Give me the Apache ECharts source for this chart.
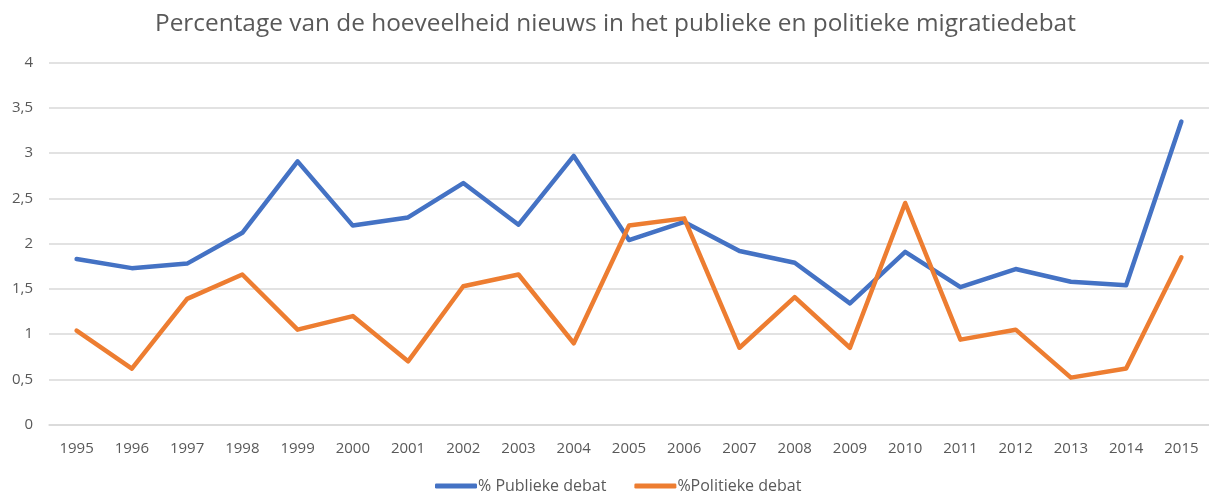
<!DOCTYPE html>
<html>
<head>
<meta charset="utf-8">
<script src="https://cdn.jsdelivr.net/npm/echarts@6/dist/echarts.min.js"></script>
<style>html,body{margin:0;padding:0;background:#fff;}#c{width:1209px;height:497px;}</style>
</head>
<body>
<div id="c"></div>
<script>
var years = ['1995','1996','1997','1998','1999','2000','2001','2002','2003','2004','2005','2006','2007','2008','2009','2010','2011','2012','2013','2014','2015'];
var publiek = [1.83,1.73,1.78,2.12,2.91,2.20,2.29,2.67,2.21,2.97,2.04,2.24,1.92,1.79,1.34,1.91,1.52,1.72,1.58,1.54,3.35];
var politiek = [1.04,0.62,1.39,1.66,1.05,1.20,0.70,1.53,1.66,0.90,2.20,2.28,0.85,1.41,0.85,2.45,0.94,1.05,0.52,0.62,1.85];
var seriesNames = ['% Publieke debat','%Politieke debat'];
var titleText = 'Percentage van de hoeveelheid nieuws in het publieke en politieke migratiedebat';

var chart = echarts.init(document.getElementById('c'));
var font = '"Open Sans", sans-serif';
chart.setOption({
  animation: false,
  title: {
    text: titleText, left: 150, top: 7,
    textStyle: { fontFamily: font, fontSize: 24.4, fontWeight: 'normal', color: '#595959' }
  },
  legend: {
    bottom: 3, left: 435, itemWidth: 42, itemHeight: 5, itemGap: 28, padding: 0,
    icon: 'roundRect',
    textStyle: { fontFamily: font, fontSize: 16, color: '#595959', padding: [0, 0, 0, -4] },
    data: seriesNames
  },
  grid: { left: 49, right: 0, top: 62.7, bottom: 72.3 },
  xAxis: {
    type: 'category', data: years, boundaryGap: true,
    axisLine: { show: true, lineStyle: { color: '#d9d9d9', width: 1.5 } },
    axisTick: { show: false },
    axisLabel: { fontFamily: font, fontSize: 15, color: '#595959', margin: 17 }
  },
  yAxis: {
    type: 'value', min: 0, max: 4, interval: 0.5,
    axisLine: { show: false }, axisTick: { show: false },
    splitLine: { lineStyle: { color: '#d9d9d9', width: 1.5 } },
    axisLabel: {
      fontFamily: font, fontSize: 15, color: '#595959', margin: 16,
      formatter: function (v) { return String(v).replace('.', ','); }
    }
  },
  series: [
    { name: seriesNames[0], type: 'line', data: publiek, symbol: 'none',
      lineStyle: { color: '#4472C4', width: 4.5, cap: 'round', join: 'round' }, itemStyle: { color: '#4472C4' } },
    { name: seriesNames[1], type: 'line', data: politiek, symbol: 'none',
      lineStyle: { color: '#ED7D31', width: 4.5, cap: 'round', join: 'round' }, itemStyle: { color: '#ED7D31' } }
  ]
});
</script>
</body>
</html>
